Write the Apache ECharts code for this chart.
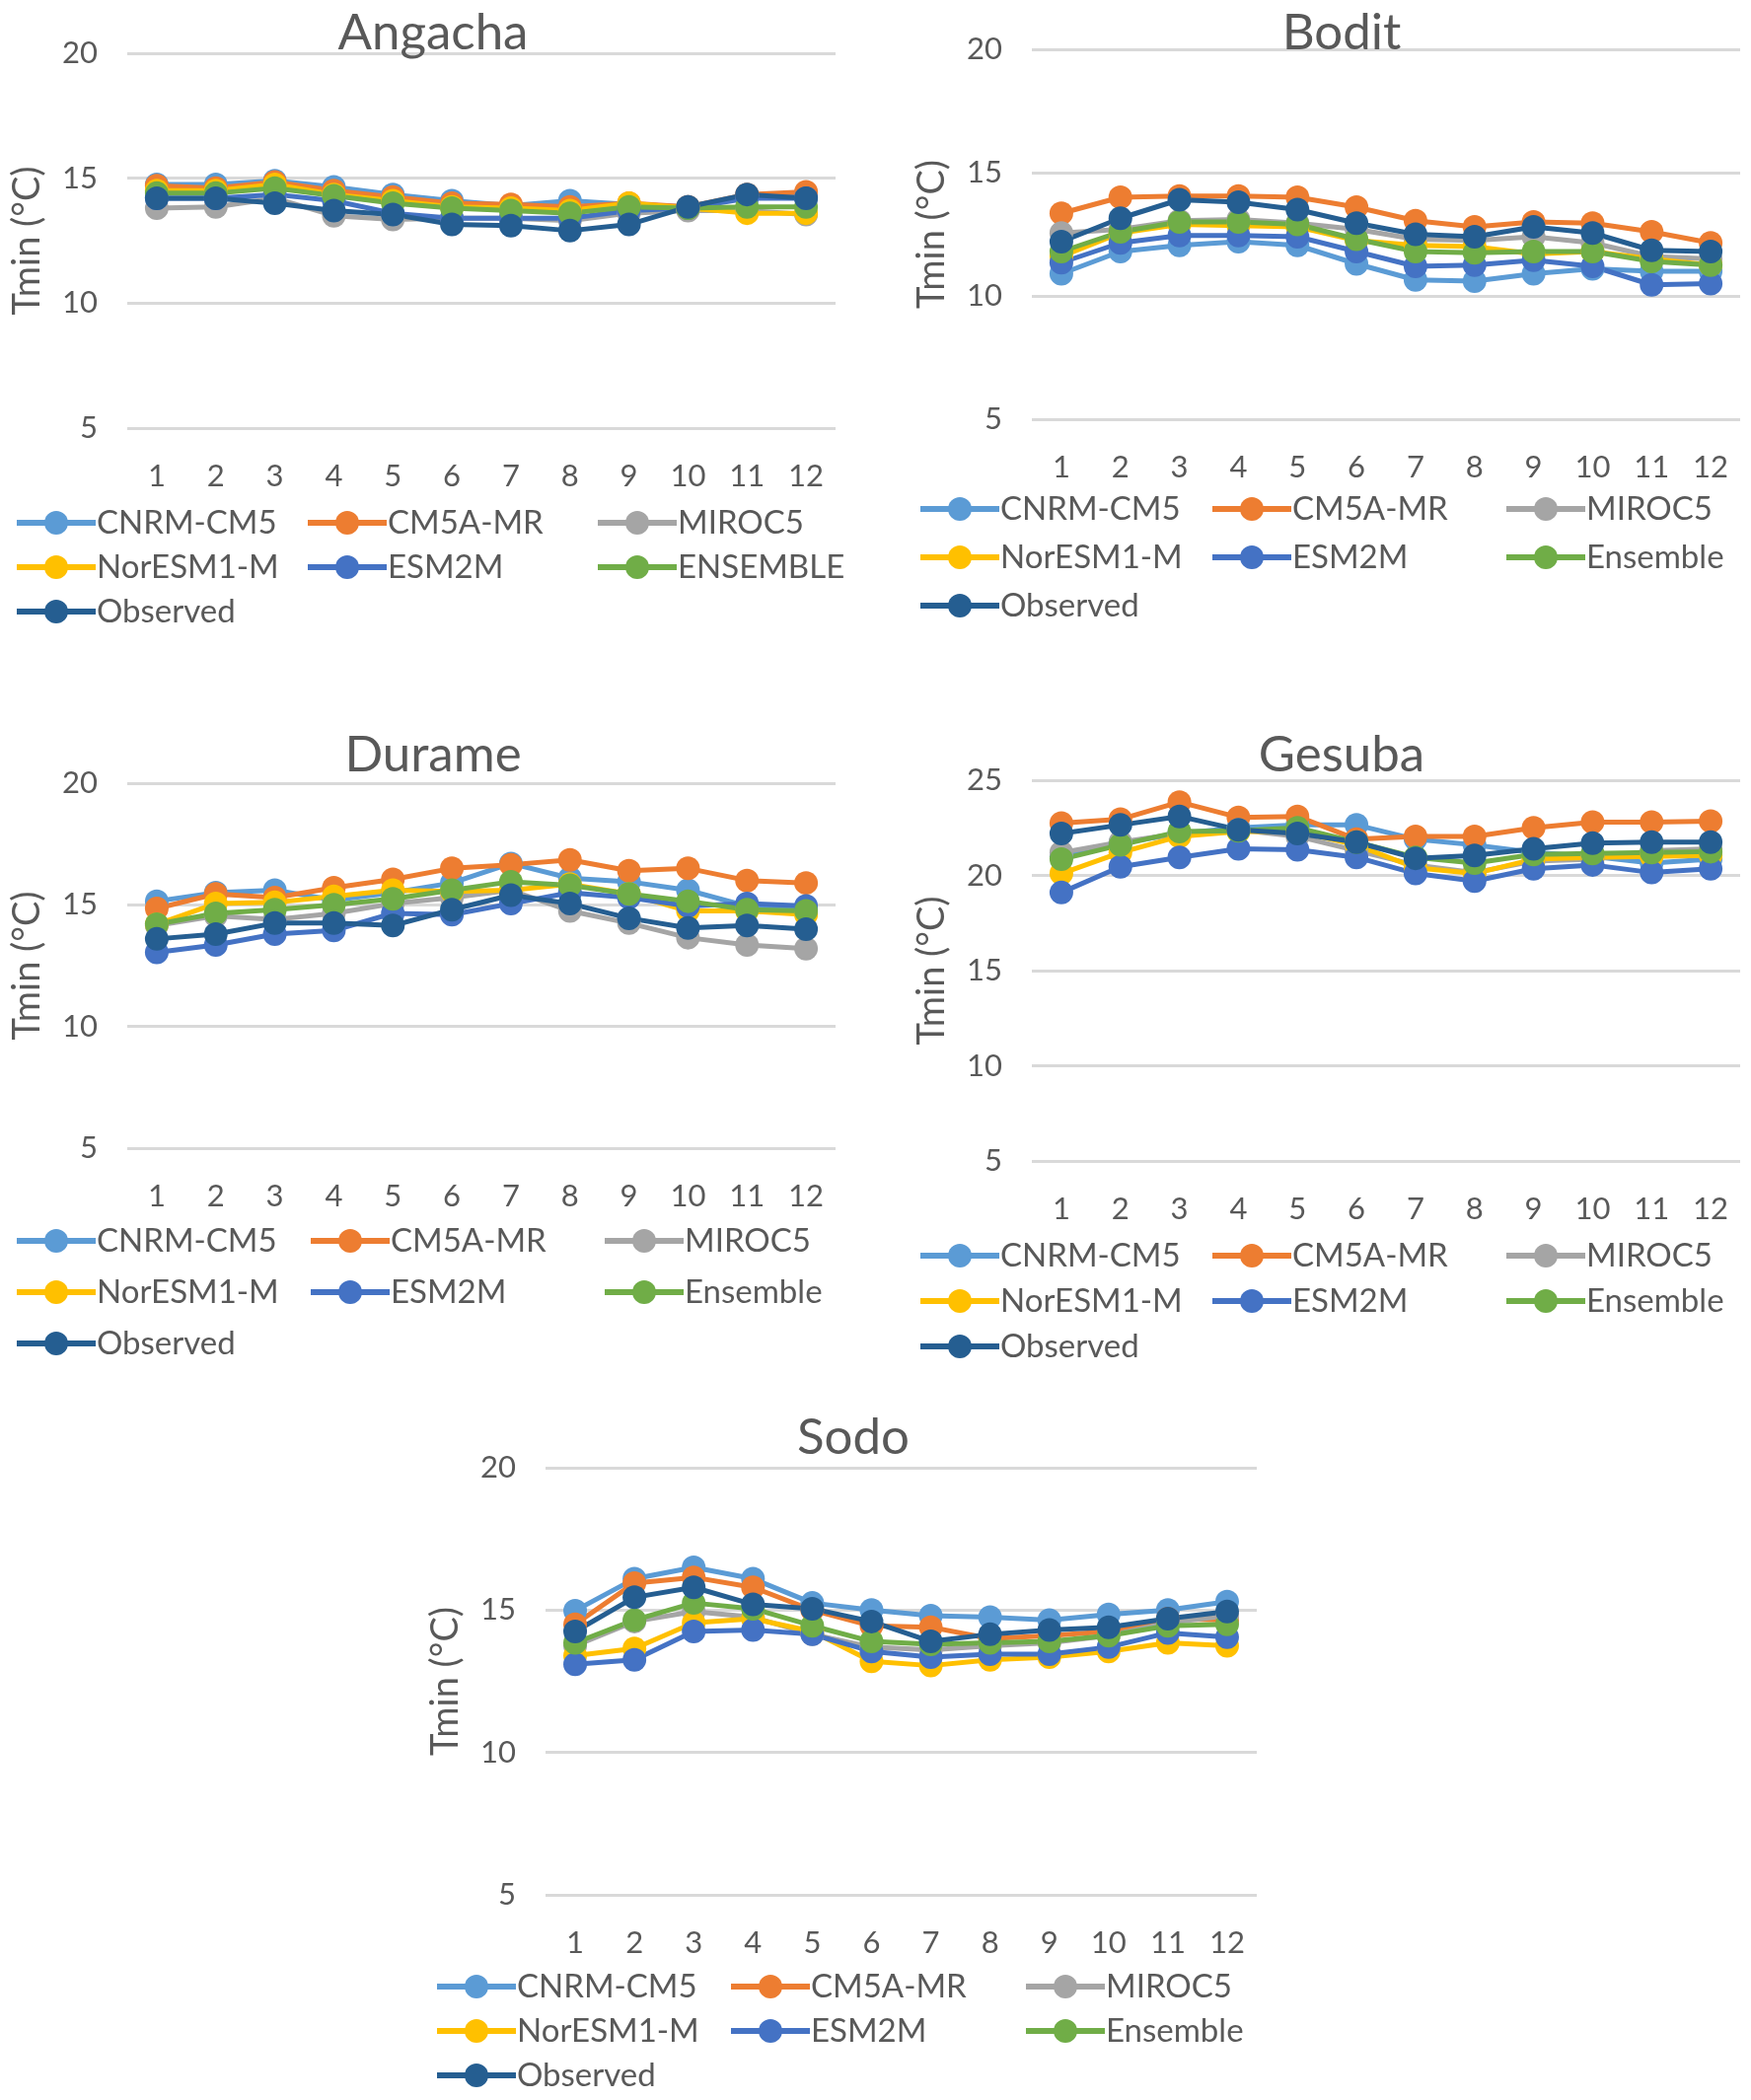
<!DOCTYPE html>
<html>
<head>
<meta charset="utf-8">
<script src="https://cdn.jsdelivr.net/npm/echarts@6/dist/echarts.min.js"></script>
<style>
  html, body { margin: 0; padding: 0; background: #fff; }
  #chart { width: 1775px; height: 2129px; }
</style>
</head>
<body>
<div id="chart"></div>
<script>
var months = ['1', '2', '3', '4', '5', '6', '7', '8', '9', '10', '11', '12'];
var models = ['CNRM-CM5', 'CM5A-MR', 'MIROC5', 'NorESM1-M', 'ESM2M', 'Ensemble', 'Observed'];
var colors = ['#5B9BD5', '#ED7D31', '#A5A5A5', '#FFC000', '#4472C4', '#70AD47', '#255E91'];

// Angacha
var angacha_cnrm  = [14.75, 14.75, 14.9, 14.65, 14.35, 14.1, 13.9, 14.1, 13.95, 13.85, 14.3, 14.4];
var angacha_cm5a  = [14.7, 14.6, 14.85, 14.5, 14.25, 14.0, 13.95, 13.85, 14.0, 13.85, 14.35, 14.45];
var angacha_miroc = [13.8, 13.85, 14.2, 13.5, 13.35, 13.4, 13.4, 13.3, 13.6, 13.7, 13.7, 13.55];
var angacha_nor   = [14.5, 14.5, 14.75, 14.35, 14.1, 13.85, 13.8, 13.7, 14.0, 13.8, 13.6, 13.6];
var angacha_esm   = [14.2, 14.2, 14.35, 14.1, 13.6, 13.4, 13.4, 13.4, 13.7, 13.8, 14.2, 14.2];
var angacha_ens   = [14.4, 14.4, 14.6, 14.3, 14.0, 13.8, 13.7, 13.6, 13.85, 13.8, 13.85, 13.85];
var angacha_obs   = [14.2, 14.2, 14.0, 13.7, 13.55, 13.15, 13.1, 12.9, 13.15, 13.85, 14.35, 14.2];

// Bodit
var bodit_cnrm  = [10.9, 11.8, 12.05, 12.2, 12.05, 11.3, 10.65, 10.6, 10.9, 11.1, 11.0, 11.0];
var bodit_cm5a  = [13.35, 14.0, 14.05, 14.05, 14.0, 13.6, 13.05, 12.8, 13.0, 12.95, 12.6, 12.15];
var bodit_miroc = [12.55, 12.7, 13.05, 13.1, 12.95, 12.7, 12.3, 12.25, 12.4, 12.15, 11.6, 11.5];
var bodit_nor   = [11.6, 12.55, 12.9, 12.85, 12.8, 12.25, 12.05, 12.0, 11.7, 11.8, 11.5, 11.25];
var bodit_esm   = [11.35, 12.15, 12.45, 12.45, 12.4, 11.8, 11.2, 11.25, 11.45, 11.2, 10.45, 10.5];
var bodit_ens   = [11.8, 12.6, 13.0, 13.0, 12.9, 12.3, 11.8, 11.75, 11.8, 11.8, 11.4, 11.25];
var bodit_obs   = [12.2, 13.15, 13.9, 13.8, 13.5, 12.95, 12.5, 12.4, 12.8, 12.55, 11.85, 11.8];

// Durame
var durame_cnrm  = [15.15, 15.5, 15.6, 15.2, 15.5, 15.9, 16.7, 16.1, 15.95, 15.6, 14.95, 14.8];
var durame_cm5a  = [14.85, 15.45, 15.3, 15.7, 16.05, 16.5, 16.65, 16.85, 16.4, 16.5, 16.0, 15.9];
var durame_miroc = [14.15, 14.55, 14.4, 14.65, 15.05, 15.3, 15.6, 14.75, 14.25, 13.65, 13.35, 13.2];
var durame_nor   = [14.2, 15.05, 15.1, 15.35, 15.6, 15.55, 15.6, 15.85, 15.45, 14.75, 14.75, 14.6];
var durame_esm   = [13.05, 13.35, 13.8, 13.95, 14.65, 14.6, 15.05, 15.5, 15.3, 14.95, 15.05, 14.95];
var durame_ens   = [14.2, 14.65, 14.8, 15.0, 15.25, 15.6, 15.95, 15.8, 15.45, 15.15, 14.8, 14.75];
var durame_obs   = [13.6, 13.8, 14.25, 14.25, 14.15, 14.8, 15.4, 15.05, 14.45, 14.05, 14.15, 14.0];

// Gesuba
var gesuba_cnrm  = [21.0, 21.7, 22.2, 22.5, 22.65, 22.65, 21.9, 21.6, 21.2, 21.0, 20.65, 20.85];
var gesuba_cm5a  = [22.75, 22.95, 23.85, 23.05, 23.1, 21.9, 22.05, 22.05, 22.5, 22.8, 22.8, 22.85];
var gesuba_miroc = [21.2, 21.75, 22.2, 22.4, 22.05, 21.3, 20.55, 20.15, 20.75, 20.85, 21.3, 21.4];
var gesuba_nor   = [20.1, 21.2, 22.05, 22.3, 22.3, 21.6, 20.4, 20.1, 20.85, 20.95, 21.0, 21.05];
var gesuba_esm   = [19.1, 20.45, 20.95, 21.4, 21.35, 20.95, 20.1, 19.7, 20.35, 20.55, 20.15, 20.35];
var gesuba_ens   = [20.85, 21.6, 22.3, 22.35, 22.5, 21.75, 20.95, 20.65, 21.1, 21.15, 21.2, 21.25];
var gesuba_obs   = [22.2, 22.65, 23.1, 22.4, 22.2, 21.75, 20.9, 21.05, 21.4, 21.7, 21.75, 21.75];

// Sodo
var sodo_cnrm  = [14.98, 16.1, 16.5, 16.1, 15.25, 15.0, 14.8, 14.75, 14.65, 14.85, 15.0, 15.3];
var sodo_cm5a  = [14.5, 15.95, 16.15, 15.8, 15.0, 14.45, 14.4, 14.0, 14.1, 14.25, 14.7, 14.65];
var sodo_miroc = [13.75, 14.6, 14.95, 14.75, 14.15, 13.7, 13.6, 13.75, 13.85, 14.1, 14.55, 14.8];
var sodo_nor   = [13.4, 13.65, 14.55, 14.7, 14.25, 13.2, 13.05, 13.25, 13.35, 13.55, 13.85, 13.75];
var sodo_esm   = [13.1, 13.25, 14.25, 14.3, 14.15, 13.55, 13.35, 13.45, 13.45, 13.7, 14.2, 14.05];
var sodo_ens   = [13.85, 14.65, 15.25, 15.05, 14.45, 13.9, 13.8, 13.85, 13.9, 14.1, 14.45, 14.5];
var sodo_obs   = [14.25, 15.45, 15.8, 15.2, 15.05, 14.6, 13.9, 14.15, 14.3, 14.4, 14.7, 14.95];

var FONT = 'Lato';
var TXT = '#595959';

var panels = [
    { title: 'Angacha', tx: 434, ty: 3, left: 129, top: 54, width: 718, height: 380, max: 20,
      ens: 'ENSEMBLE', rows: [530, 575, 619], cols: [14, 309, 603],
      data: [angacha_cnrm, angacha_cm5a, angacha_miroc, angacha_nor, angacha_esm, angacha_ens, angacha_obs] },
    { title: 'Bodit', tx: 1355, ty: 3, left: 1046, top: 50, width: 718, height: 375, max: 20,
      ens: 'Ensemble', rows: [516, 565, 614], cols: [930, 1226, 1524],
      data: [bodit_cnrm, bodit_cm5a, bodit_miroc, bodit_nor, bodit_esm, bodit_ens, bodit_obs] },
    { title: 'Durame', tx: 434, ty: 735, left: 129, top: 794, width: 718, height: 370, max: 20,
      ens: 'Ensemble', rows: [1258, 1310, 1361], cols: [14, 312, 610],
      data: [durame_cnrm, durame_cm5a, durame_miroc, durame_nor, durame_esm, durame_ens, durame_obs] },
    { title: 'Gesuba', tx: 1355, ty: 735, left: 1046, top: 791, width: 718, height: 386, max: 25,
      ens: 'Ensemble', rows: [1273, 1319, 1365], cols: [930, 1226, 1524],
      data: [gesuba_cnrm, gesuba_cm5a, gesuba_miroc, gesuba_nor, gesuba_esm, gesuba_ens, gesuba_obs] },
    { title: 'Sodo', tx: 860, ty: 1427, left: 553, top: 1488, width: 721, height: 433, max: 20,
      ens: 'Ensemble', rows: [2014, 2059, 2104], cols: [440, 738, 1037],
      data: [sodo_cnrm, sodo_cm5a, sodo_miroc, sodo_nor, sodo_esm, sodo_ens, sodo_obs] }
];

var option = {
    backgroundColor: '#fff',
    animation: false,
    title: [], grid: [], xAxis: [], yAxis: [], legend: [], series: []
};

panels.forEach(function (p, k) {
    var names = models.slice();
    names[5] = p.ens;

    option.title.push({
        text: p.title, left: p.tx, top: p.ty, textAlign: 'center',
        textStyle: { fontFamily: FONT, fontSize: 51, fontWeight: 'normal', color: TXT }
    });
    option.grid.push({ left: p.left, top: p.top, width: p.width, height: p.height });
    option.xAxis.push({
        type: 'category', gridIndex: k, data: months, boundaryGap: true,
        axisLine: { show: false }, axisTick: { show: false },
        axisLabel: { fontFamily: FONT, fontSize: 31, color: TXT, margin: 33, interval: 0 }
    });
    option.yAxis.push({
        type: 'value', gridIndex: k, min: 5, max: p.max, interval: 5,
        name: 'Tmin (°C)', nameLocation: 'middle', nameGap: 82, nameRotate: 90,
        nameTextStyle: { fontFamily: FONT, fontSize: 38, color: TXT },
        axisLine: { show: false }, axisTick: { show: false },
        axisLabel: { fontFamily: FONT, fontSize: 31, color: TXT, margin: 30 },
        splitLine: { lineStyle: { color: '#D9D9D9', width: 3 } }
    });
    names.forEach(function (n, i) {
        option.series.push({
            name: n, type: 'line', xAxisIndex: k, yAxisIndex: k,
            data: p.data[i], symbol: 'circle', symbolSize: 24,
            color: colors[i],
            lineStyle: { width: 5, color: colors[i] },
            itemStyle: { color: colors[i] }
        });
    });
    var colItems = [[names[0], names[3], names[6]], [names[1], names[4]], [names[2], names[5]]];
    colItems.forEach(function (items, c) {
        option.legend.push({
            orient: 'vertical', left: p.cols[c], top: p.rows[0] - 17,
            itemGap: p.rows[1] - p.rows[0] - 34,
            itemWidth: 80, itemHeight: 30, padding: 0,
            selectedMode: false,
            data: items,
            lineStyle: { width: 6 },
            itemStyle: { borderWidth: 0 },
            textStyle: { fontFamily: FONT, fontSize: 33, color: TXT, padding: [0, 0, 0, -4], lineHeight: 34, height: 34 }
        });
    });
});

var myChart = echarts.init(document.getElementById('chart'));
myChart.setOption(option);
</script>
</body>
</html>
